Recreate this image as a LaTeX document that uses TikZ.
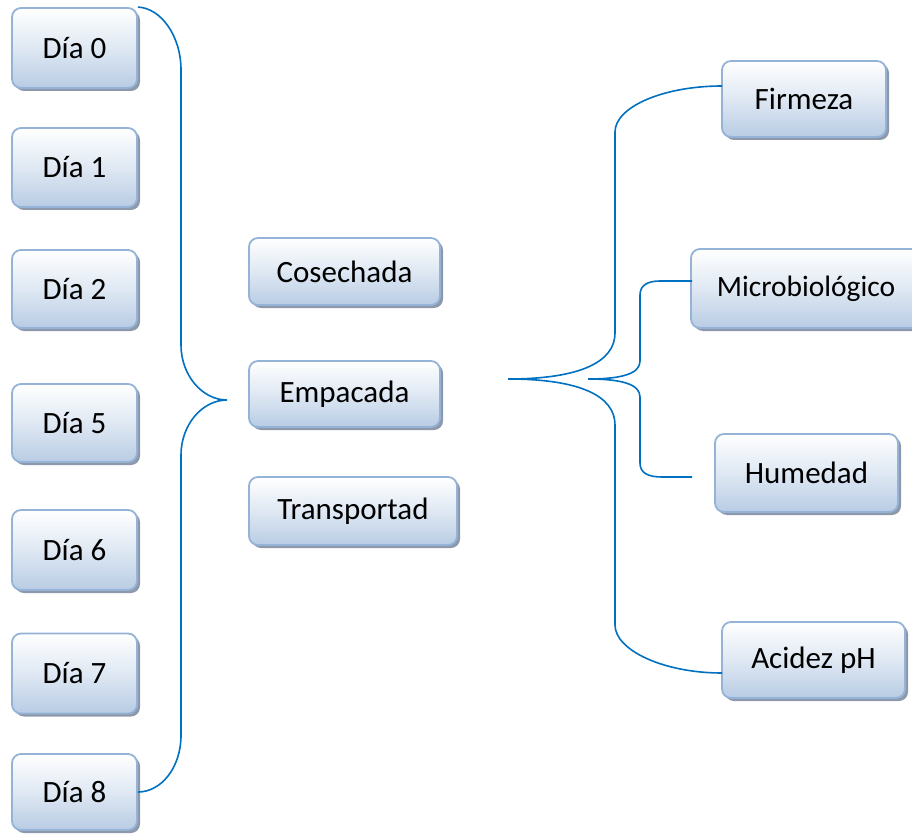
\documentclass[tikz,border=0pt]{standalone}
\usepackage{fontspec}
\setmainfont{Carlito}
\usetikzlibrary{shadows}
\definecolor{boxline}{HTML}{95B3D7}
\definecolor{boxbottom}{HTML}{B8CCE4}
\definecolor{boxshadow}{HTML}{8D99AA}
\definecolor{linkblue}{HTML}{0070C0}
\tikzset{
  card/.style={rectangle, rounded corners=9pt, draw=boxline, line width=1.8pt,
    top color=white, bottom color=boxbottom, middle color=white!55!boxbottom,
    drop shadow={shadow xshift=3pt, shadow yshift=-3pt, fill=boxshadow, opacity=1},
    inner sep=0pt, font=\fontsize{31}{36}\selectfont, text=black},
  link/.style={draw=linkblue, line width=1.6pt}
}
\begin{document}
\begin{tikzpicture}[x=1pt,y=-1pt]
\useasboundingbox (0,0) rectangle (912,834);

% days column
\node[card, minimum width=125pt, minimum height=80pt] (d0) at (74.5,48)    {Día 0};
\node[card, minimum width=125pt, minimum height=79pt] (d1) at (74.5,167.5) {Día 1};
\node[card, minimum width=125pt, minimum height=78pt] (d2) at (74.5,289)   {Día 2};
\node[card, minimum width=125pt, minimum height=78pt] (d5) at (74.5,423)   {Día 5};
\node[card, minimum width=125pt, minimum height=80pt] (d6) at (74.5,550)   {Día 6};
\node[card, minimum width=125pt, minimum height=80pt] (d7) at (74.5,673.5) {Día 7};
\node[card, minimum width=125pt, minimum height=76pt] (d8) at (74.5,792)   {Día 8};

% stages column
\node[card, minimum width=191pt, minimum height=67pt] (cos) at (344.5,271.5) {Cosechada};
\node[card, minimum width=191pt, minimum height=66pt] (emp) at (344.5,394)   {Empacada};
\node[card, minimum width=208pt, minimum height=68pt] (tra) at (353,511)     {Transportad};

% measurements column
\node[card, minimum width=164pt, minimum height=76pt] (fir) at (804,99)    {Firmeza};
\node[card, minimum width=230pt, minimum height=79pt, font=\fontsize{29.5}{34}\selectfont] (mic) at (806,288.5) {Microbiológico};
\node[card, minimum width=183pt, minimum height=78pt] (hum) at (806.5,473) {Humedad};
\node[card, minimum width=183pt, minimum height=76pt] (aci) at (813.5,660) {Acidez pH};

% brace tips and free ends
\coordinate (tipL) at (227,400);
\coordinate (tipR) at (508,379);
\coordinate (tipI) at (588,379);
\coordinate (firIn) at (722,86);
\coordinate (aciIn) at (722,673);
\coordinate (micIn) at (692,281);
\coordinate (humIn) at (692,477);

% left brace: days -> stages
\draw[link] (d0.north east) .. controls (161,8) and (181,36) .. (181,70)
  -- (181,345) .. controls (181,375) and (202,400) .. (tipL)
  .. controls (202,400) and (181,425) .. (181,455)
  -- (181,735) .. controls (181,768) and (161,792) .. (d8.east);

% outer right brace: firmeza / acidez
\draw[link] (tipR) .. controls (580,379) and (615,362) .. (615,333)
  -- (615,132) .. controls (615,107) and (663,86) .. (firIn);
\draw[link] (tipR) .. controls (580,379) and (615,396) .. (615,425)
  -- (615,625) .. controls (615,650) and (663,673) .. (aciIn);

% inner right brace: microbiologico / humedad
\draw[link] (tipI) .. controls (624,379) and (640,373) .. (640,361)
  -- (640,295) .. controls (640,285) and (648,281) .. (660,281) -- (micIn);
\draw[link] (tipI) .. controls (624,379) and (640,385) .. (640,397)
  -- (640,463) .. controls (640,473) and (648,477) .. (662,477) -- (humIn);
\end{tikzpicture}
\end{document}
